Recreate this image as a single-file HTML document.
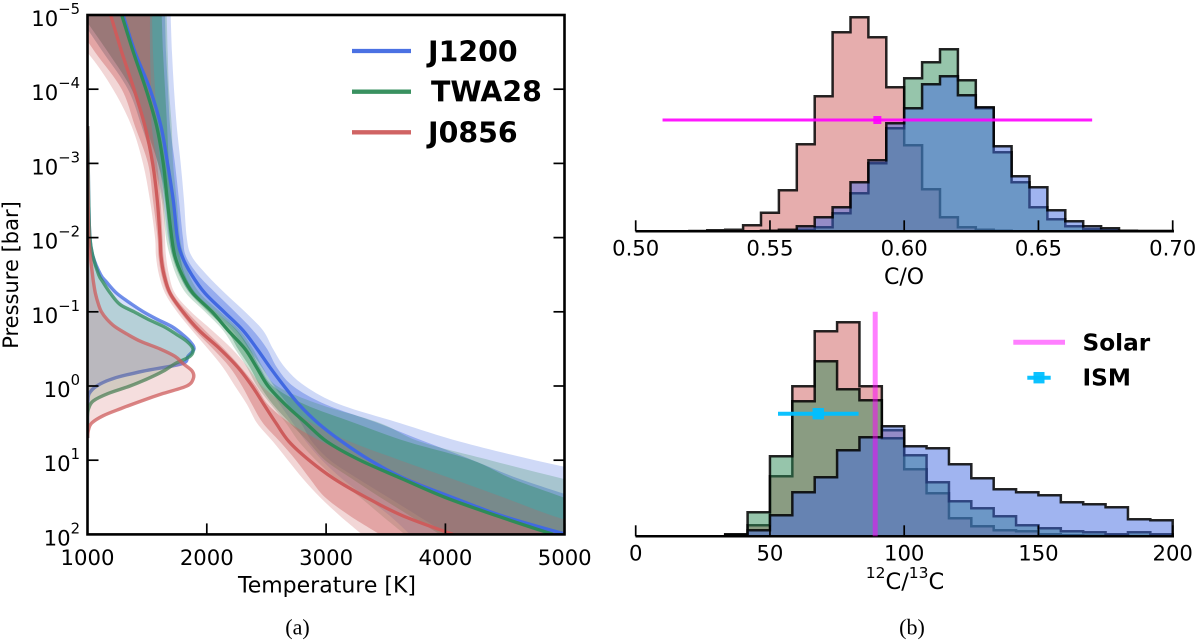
<!DOCTYPE html>
<html lang="en">
<head>
<meta charset="utf-8">
<title>Retrieved temperature profiles and abundance ratio posteriors</title>
<style>
html,body{margin:0;padding:0;background:#fff;}
#figure{display:block;width:1200px;height:642px;}
text{font-family:"DejaVu Sans","Liberation Sans",sans-serif;fill:#000;}
.caption{font-family:"Liberation Serif",serif;font-size:22px;}
.legend-text{font-weight:bold;}
</style>
</head>
<body>
<svg id="figure" xmlns="http://www.w3.org/2000/svg" width="1200" height="642" viewBox="0 0 1200 642">
  <defs>
    <clipPath id="pt-clip"><rect x="87.5" y="15" width="477" height="519.4"/></clipPath>
  </defs>
  <g id="pt-plot" clip-path="url(#pt-clip)"></g>
  <g id="pt-axes"></g>
  <text x="327" y="592.5" font-size="22" text-anchor="middle">Temperature [K]</text>
  <text transform="translate(18,275) rotate(-90)" font-size="21" text-anchor="middle">Pressure [bar]</text>

  <g>
    <line x1="352" x2="411" y1="51" y2="51" stroke="#4169e1" stroke-opacity="0.95" stroke-width="4.3"/>
    <text class="legend-text" x="428" y="61.7" font-size="28.4">J1200</text>
    <line x1="352" x2="411" y1="91.7" y2="91.7" stroke="#2e8b57" stroke-opacity="0.95" stroke-width="4.3"/>
    <text class="legend-text" x="431" y="101.7" font-size="28.4">TWA28</text>
    <line x1="352" x2="411" y1="132.3" y2="132.3" stroke="#cd5c5c" stroke-opacity="0.95" stroke-width="4.3"/>
    <text class="legend-text" x="428" y="142.3" font-size="28.4">J0856</text>
  </g>

  <g id="co-plot"></g>
  <g id="ratio-plot"></g>
  <text x="904" y="284" font-size="22" text-anchor="middle">C/O</text>
  <text x="905" y="589" font-size="22.5" text-anchor="middle"><tspan font-size="15.5" dy="-11">12</tspan><tspan dy="11">C/</tspan><tspan font-size="15.5" dy="-11">13</tspan><tspan dy="11">C</tspan></text>

  <g>
    <line x1="1013.3" x2="1065" y1="342.3" y2="342.3" stroke="#ff00ff" stroke-opacity="0.5" stroke-width="5"/>
    <text class="legend-text" x="1082.5" y="350.5" font-size="23.2">Solar</text>
    <line x1="1027.3" x2="1050.7" y1="377.7" y2="377.7" stroke="#00bfff" stroke-opacity="0.95" stroke-width="4"/>
    <rect x="1033.5" y="372" width="11" height="11.4" fill="#00bfff" fill-opacity="0.95"/>
    <text class="legend-text" x="1082.5" y="385.7" font-size="23.2">ISM</text>
  </g>

  <text class="caption" x="297.5" y="634.5" text-anchor="middle">(a)</text>
  <text class="caption" x="912" y="634.5" text-anchor="middle">(b)</text>
</svg>

<script>
// ---------- Left panel data: temperature [K] at each log10(pressure [bar]) level ----------
const logPressure = [-5,-4.5,-4,-3.5,-3,-2.5,-2,-1.75,-1.5,-1.25,-1,-0.75,-0.5,-0.25,0,0.25,0.5,0.75,1,1.25,1.5,1.75,2];

const j1200Median = [1298,1398,1524,1616,1671,1719,1753,1792,1873,1985,2144,2303,2421,2530,2647,2773,2932,3133,3368,3661,4056,4475,5011];
const j1200High1 = [1650,1658,1675,1692,1733,1767,1800,1825,1926,2077,2236,2387,2505,2588,2722,2998,3435,3829,4231,4617,5086,5547,6050];
const j1200High2 = [1697,1708,1725,1748,1781,1809,1832,1873,1999,2153,2320,2471,2555,2655,2823,3116,3619,4122,4751,5463,6134,6888,7810];
const j1200Low1 = [954,1172,1370,1490,1591,1666,1708,1750,1809,1901,2077,2245,2353,2463,2563,2680,2790,2882,3033,3267,3519,3770,4022];
const j1200Low2 = [920,1130,1339,1454,1557,1633,1675,1717,1775,1859,2044,2211,2320,2429,2513,2613,2722,2831,2966,3133,3334,3535,3703];

const twa28Median = [1287,1384,1490,1580,1635,1669,1706,1733,1792,1884,2044,2178,2320,2418,2513,2658,2831,3007,3284,3636,3996,4432,4902];
const twa28High1 = [1622,1633,1650,1667,1683,1714,1748,1775,1817,1909,2077,2253,2362,2446,2555,2823,3242,3678,4224,4559,4986,5397,5840];
const twa28High2 = [1664,1672,1683,1706,1717,1748,1775,1809,1851,1943,2111,2278,2387,2471,2588,2949,3452,3787,4374,4986,5631,6217,6804];
const twa28Low1 = [954,1172,1370,1482,1591,1650,1683,1710,1767,1859,2010,2169,2261,2362,2446,2555,2697,2848,2991,3217,3452,3703,3955];
const twa28Low2 = [920,1130,1339,1454,1549,1622,1658,1692,1742,1826,1985,2136,2236,2337,2420,2538,2664,2772,2915,3083,3284,3469,3661];

const j0856Median = [1194,1287,1390,1482,1546,1585,1608,1616,1641,1692,1800,1935,2110,2261,2379,2479,2580,2689,2857,3066,3334,3644,4064];
const j0856High1 = [1524,1524,1532,1538,1583,1612,1629,1637,1662,1712,1834,1985,2144,2287,2412,2513,2697,2965,3301,3703,4080,4500,4961];
const j0856High2 = [1541,1549,1566,1583,1608,1640,1650,1658,1683,1733,1868,2044,2211,2345,2463,2656,2881,3200,3619,4055,4483,4902,5421];
const j0856Low1 = [853,1063,1287,1398,1507,1549,1587,1595,1620,1671,1775,1901,2052,2194,2295,2379,2471,2613,2747,2865,2991,3200,3452];
const j0856Low2 = [686,996,1214,1370,1465,1524,1566,1574,1599,1650,1750,1876,2010,2136,2236,2337,2421,2555,2680,2806,2949,3116,3301];

// Emission contribution functions, expressed on the temperature axis
const contributionLogP = [-3.5,-3,-2.5,-2,-1.75,-1.5,-1.4,-1.25,-1.1,-1,-0.9,-0.8,-0.7,-0.6,-0.5,-0.4,-0.3,-0.2,-0.1,0,0.1,0.2,0.3,0.4,0.5,0.6,0.7];
const j1200Contribution = [1002,1006,1010,1020,1045,1110,1160,1245,1373,1469,1583,1708,1792,1859,1893,1842,1790,1465,1214,1077,1015,1004,1000,1000,1000,1000,1000];
const twa28Contribution = [1002,1006,1010,1020,1045,1094,1130,1192,1272,1390,1507,1641,1742,1834,1884,1859,1733,1635,1507,1356,1174,1049,1010,1000,1000,1000,1000];
const j0856Contribution = [1000,1002,1005,1012,1024,1042,1050,1066,1092,1117,1163,1230,1331,1448,1608,1733,1803,1878,1887,1832,1635,1454,1287,1132,1035,1007,1000];

const temperatureTicks = [1000,2000,3000,4000,5000];
const pressureExponents = [-5,-4,-3,-2,-1,0,1,2];

// ---------- Right panel data: histogram counts per bin ----------
const coBinStart = 0.5;
const coBinWidth = 0.2 / 30;
const coJ0856 = [0,0,0,0.3,1,1.5,6,18.6,41,87,135,199,214,194,144,86,42,14,4,1.5,0.5,0,0,0,0,0,0,0,0,0];
const coTwa28 = [0,0,0,0,0,0,0,0.2,0.5,1.5,4,18,38,68,103,153,169,182,151,123,79,49,24,12,5,2,0.7,0.3,0.2,0.2];
const coJ1200 = [0,0,0,0,0,0,0,0.5,1.5,5,14,24,49,71,108,123,147,155,136,124,85,55,44,21,10,5,3,0.5,0.3,0.3];
const coTicks = [0.5,0.55,0.6,0.65,0.7];
const coTickLabels = ["0.50","0.55","0.60","0.65","0.70"];
const solarCO = 0.59;
const solarCOLow = 0.51;
const solarCOHigh = 0.67;

const ratioBinStart = 0;
const ratioBinWidth = 200 / 24;
const ratioJ0856 = [0,0,0,0,1.5,11,60,150,205,214,150,106,67,43,18,10,6,5,2,1,0.7,0.5,0.3,0.3];
const ratioTwa28 = [0,0,0,0,2,24,80,135,175,147,136,98,81,54,35,28,20,11,8,5,4,2,4,2];
const ratioJ1200 = [0,0,0,0,0.5,6,21,44,59,86,99,110,90,88,72,58,47,44,41,34,32,29,17,16];
const ratioTicks = [0,50,100,150,200];
const ratioTickLabels = ["0","50","100","150","200"];
const solarRatio = 89.2;
const ismRatio = 68;
const ismRatioLow = 53;
const ismRatioHigh = 83;

// ---------- Axis functions ----------
function tempX(t){ return 87.5 + (t - 1000) * 0.1193; }
function pressureY(lp){ return 386 + lp * 74.2; }
function coX(v){ return 635.7 + (v - 0.5) * 2685; }
function ratioX(v){ return 635.7 + v * 2.685; }
function coY(c){ return 231.3 - c; }
function ratioY(c){ return 536.3 - c; }

const SVG_NS = "http://www.w3.org/2000/svg";
function make(tag, attrs, parent){
  const el = document.createElementNS(SVG_NS, tag);
  for (const k in attrs) el.setAttribute(k, attrs[k]);
  parent.appendChild(el);
  return el;
}
function smoothPath(pts, move){
  let d = (move ? "M" : "L") + pts[0][0].toFixed(2) + "," + pts[0][1].toFixed(2);
  for (let i = 0; i < pts.length - 1; i++){
    const p0 = pts[Math.max(i - 1, 0)], p1 = pts[i], p2 = pts[i + 1], p3 = pts[Math.min(i + 2, pts.length - 1)];
    const c1x = p1[0] + (p2[0] - p0[0]) / 6, c1y = p1[1] + (p2[1] - p0[1]) / 6;
    const c2x = p2[0] - (p3[0] - p1[0]) / 6, c2y = p2[1] - (p3[1] - p1[1]) / 6;
    d += "C" + c1x.toFixed(2) + "," + c1y.toFixed(2) + " " + c2x.toFixed(2) + "," + c2y.toFixed(2) + " " + p2[0].toFixed(2) + "," + p2[1].toFixed(2);
  }
  return d;
}
function profilePoints(temps, levels){
  return temps.map(function(t, i){ return [tempX(t), pressureY(levels[i])]; });
}
function bandPath(low, high){
  return smoothPath(profilePoints(high, logPressure), true) + smoothPath(profilePoints(low, logPressure).reverse(), false) + "Z";
}

// ---------- Left panel drawing ----------
const ptPlot = document.getElementById("pt-plot");
const ptAxes = document.getElementById("pt-axes");

function drawBands(label, colour, low2, high2, low1, high1){
  const outer = make("path", {d: bandPath(low2, high2), fill: colour, "fill-opacity": 0.25}, ptPlot);
  
  
  const inner = make("path", {d: bandPath(low1, high1), fill: colour, "fill-opacity": 0.4}, ptPlot);
  
  
}
function drawContribution(label, colour, values){
  const pts = profilePoints(values, contributionLogP);
  const first = pts[0], last = pts[pts.length - 1];
  const area = make("path", {d: "M" + tempX(1000) + "," + first[1] + smoothPath(pts, false) + "L" + tempX(1000) + "," + last[1] + "Z", fill: colour, "fill-opacity": 0.2}, ptPlot);
  
  
  const line = make("path", {d: smoothPath(pts, true), fill: "none", stroke: colour, "stroke-opacity": 0.75, "stroke-width": 3.4}, ptPlot);
  
  
}
function drawMedian(label, colour, values){
  const line = make("path", {d: smoothPath(profilePoints(values, logPressure), true), fill: "none", stroke: colour, "stroke-width": 3.3}, ptPlot);
  
  
}

drawBands("j1200", "#4169e1", j1200Low2, j1200High2, j1200Low1, j1200High1);
drawBands("twa28", "#2e8b57", twa28Low2, twa28High2, twa28Low1, twa28High1);
drawBands("j0856", "#cd5c5c", j0856Low2, j0856High2, j0856Low1, j0856High1);
drawContribution("j1200", "#4169e1", j1200Contribution);
drawContribution("twa28", "#2e8b57", twa28Contribution);
drawContribution("j0856", "#cd5c5c", j0856Contribution);
drawMedian("j1200", "#4169e1", j1200Median);
drawMedian("twa28", "#2e8b57", twa28Median);
drawMedian("j0856", "#cd5c5c", j0856Median);

temperatureTicks.forEach(function(t){
  const x = tempX(t);
  const tick = make("line", {x1: x, x2: x, y1: 534.4, y2: 523.4, stroke: "#000", "stroke-width": 1.7}, ptAxes);
  
  
  const label = make("text", {x: x, y: 565, "font-size": 21.2, "text-anchor": "middle"}, ptAxes);
  
  
  label.textContent = String(t);
});
pressureExponents.forEach(function(e){
  const y = pressureY(e);
  const tickLeft = make("line", {x1: 87.5, x2: 98.5, y1: y, y2: y, stroke: "#000", "stroke-width": 1.7}, ptAxes);
  
  
  const tickRight = make("line", {x1: 553.5, x2: 564.5, y1: y, y2: y, stroke: "#000", "stroke-width": 1.7}, ptAxes);
  
  
  const label = make("text", {x: 80, y: y + 11, "font-size": 21.2, "text-anchor": "end"}, ptAxes);
  
  
  const base = make("tspan", {}, label);
  base.textContent = "10";
  const exponent = make("tspan", {"font-size": 14.8, dy: -12}, label);
  exponent.textContent = (e < 0 ? "\u2212" : "") + Math.abs(e);
});
const frame = make("rect", {x: 87.5, y: 15, width: 477, height: 519.4, fill: "none", stroke: "#000", "stroke-width": 2.6}, ptAxes);



// ---------- Right panel drawing ----------
function histPath(counts, start, width, xFn, yFn){
  let d = "M" + xFn(start).toFixed(2) + "," + yFn(0).toFixed(2);
  counts.forEach(function(c, i){
    d += "L" + xFn(start + i * width).toFixed(2) + "," + yFn(c).toFixed(2);
    d += "L" + xFn(start + (i + 1) * width).toFixed(2) + "," + yFn(c).toFixed(2);
  });
  d += "L" + xFn(start + counts.length * width).toFixed(2) + "," + yFn(0).toFixed(2) + "Z";
  return d;
}
function drawHist(parent, label, colour, counts, start, width, xFn, yFn){
  const path = make("path", {d: histPath(counts, start, width, xFn, yFn), fill: colour, "fill-opacity": 0.5, stroke: "#000", "stroke-opacity": 0.85, "stroke-width": 2.5, "stroke-linejoin": "miter"}, parent);
  
  
}
function drawBottomAxis(parent, prefix, ticks, labels, xFn, baseY, labelY, tickFont){
  const axis = make("line", {x1: xFn(ticks[0]), x2: xFn(ticks[ticks.length - 1]), y1: baseY, y2: baseY, stroke: "#000", "stroke-width": 1.9}, parent);
  
  
  ticks.forEach(function(v, i){
    const x = xFn(v);
    const tick = make("line", {x1: x, x2: x, y1: baseY, y2: baseY - 11, stroke: "#000", "stroke-width": 1.7}, parent);
    
    
    const text = make("text", {x: x, y: labelY, "font-size": tickFont, "text-anchor": "middle"}, parent);
    
    
    text.textContent = labels[i];
  });
}

const coPlot = document.getElementById("co-plot");
drawHist(coPlot, "co-hist-j0856", "#cd5c5c", coJ0856, coBinStart, coBinWidth, coX, coY);
drawHist(coPlot, "co-hist-twa28", "#2e8b57", coTwa28, coBinStart, coBinWidth, coX, coY);
drawHist(coPlot, "co-hist-j1200", "#4169e1", coJ1200, coBinStart, coBinWidth, coX, coY);
drawBottomAxis(coPlot, "co", coTicks, coTickLabels, coX, 231.3, 255.5, 21.2);
const solarCOBar = make("line", {x1: coX(solarCOLow), x2: coX(solarCOHigh), y1: 120, y2: 120, stroke: "#ff00ff", "stroke-opacity": 0.9, "stroke-width": 3}, coPlot);


const solarCOMarker = make("rect", {x: coX(solarCO) - 4, y: 116, width: 8, height: 8, fill: "#ff00ff", "fill-opacity": 0.9}, coPlot);



const ratioPlot = document.getElementById("ratio-plot");
drawHist(ratioPlot, "ratio-hist-j0856", "#cd5c5c", ratioJ0856, ratioBinStart, ratioBinWidth, ratioX, ratioY);
drawHist(ratioPlot, "ratio-hist-twa28", "#2e8b57", ratioTwa28, ratioBinStart, ratioBinWidth, ratioX, ratioY);
drawHist(ratioPlot, "ratio-hist-j1200", "#4169e1", ratioJ1200, ratioBinStart, ratioBinWidth, ratioX, ratioY);
drawBottomAxis(ratioPlot, "ratio", ratioTicks, ratioTickLabels, ratioX, 536.3, 560.5, 21.2);
const solarRatioLine = make("line", {x1: ratioX(solarRatio), x2: ratioX(solarRatio), y1: 311.7, y2: 536.3, stroke: "#ff00ff", "stroke-opacity": 0.5, "stroke-width": 5}, ratioPlot);


const ismBar = make("line", {x1: ratioX(ismRatioLow), x2: ratioX(ismRatioHigh), y1: 413.7, y2: 413.7, stroke: "#00bfff", "stroke-opacity": 0.95, "stroke-width": 4}, ratioPlot);


const ismMarker = make("rect", {x: ratioX(ismRatio) - 5.7, y: 408, width: 11.4, height: 11.4, fill: "#00bfff", "fill-opacity": 0.95}, ratioPlot);


</script>
</body>
</html>
